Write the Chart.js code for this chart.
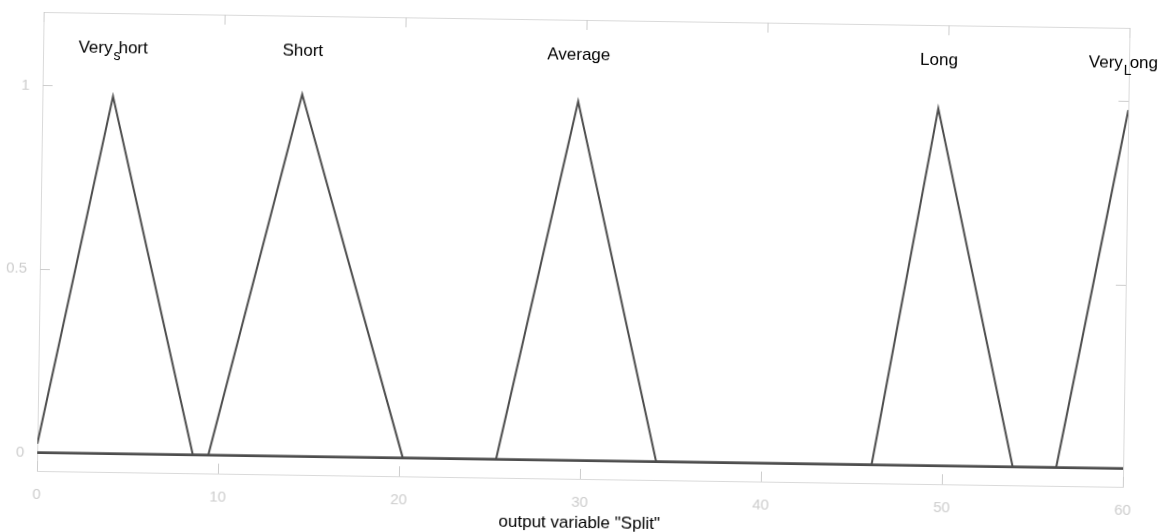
<!DOCTYPE html>
<html><head><meta charset="utf-8">
<script src="https://cdn.jsdelivr.net/npm/chart.js@4.4.1/dist/chart.umd.min.js"></script>
<style>
html,body{margin:0;padding:0;background:#fff;overflow:hidden;width:1176px;height:532px;}
#wrap{width:1176px;height:532px;transform:rotate(0.84deg);transform-origin:588px 266px;}
canvas{display:block;}
</style></head><body>
<div id="wrap"><canvas id="c" width="1176" height="532"></canvas></div>
<script>
// ---- data ----
const xTicks = [0, 10, 20, 30, 40, 50, 60];
const yTicks = [0, 0.5, 1];
const mfNames = ['Very_short', 'Short', 'Average', 'Long', 'Very_Long'];
const veryShortX = [0, 3.9, 8.6, 60];
const veryShortY = [0.024, 0.973, 0, 0];
const shortX = [0, 9.45, 14.35, 20.2, 60];
const shortY = [0, 0, 0.986, 0, 0];
const averageX = [0, 25.35, 29.6, 34.2, 60];
const averageY = [0, 0, 0.978, 0, 0];
const longX = [0, 46.1, 49.5, 53.9, 60];
const longY = [0, 0, 0.973, 0, 0];
const veryLongX = [0, 56.3, 60];
const veryLongY = [0, 0, 0.976];
const axisTitle = 'output variable "Split"';
const labelLevel = 1.105;

const seriesX = [veryShortX, shortX, averageX, longX, veryLongX];
const seriesY = [veryShortY, shortY, averageY, longY, veryLongY];

const FONT = '"Liberation Sans", Arial, sans-serif';
const LINE = '#4d4d4d';
const FAINT = '#cdcdcd';

const datasets = mfNames.map((name, i) => ({
  label: name,
  data: seriesX[i].map((x, j) => ({x: x, y: seriesY[i][j]})),
  borderColor: LINE,
  borderWidth: 2,
  pointRadius: 0,
  tension: 0,
  fill: false
}));

const boxPlugin = {
  id: 'box',
  beforeDatasetsDraw(chart) {
    const {ctx, chartArea: a, scales: {x, y}} = chart;
    ctx.save();
    ctx.strokeStyle = '#dadada';
    ctx.lineWidth = 1;
    ctx.strokeRect(Math.round(a.left) + 0.5, Math.round(a.top) + 0.5,
                   Math.round(a.right - a.left), Math.round(a.bottom - a.top));
    ctx.strokeStyle = FAINT;
    const L = 10;
    ctx.beginPath();
    xTicks.forEach(v => {
      const px = Math.round(x.getPixelForValue(v)) + 0.5;
      ctx.moveTo(px, a.bottom); ctx.lineTo(px, a.bottom - L);
      ctx.moveTo(px, a.top); ctx.lineTo(px, a.top + L);
    });
    yTicks.forEach(v => {
      const py = Math.round(y.getPixelForValue(v)) + 0.5;
      ctx.moveTo(a.left, py); ctx.lineTo(a.left + L, py);
      ctx.moveTo(a.right, py); ctx.lineTo(a.right - L, py);
    });
    ctx.stroke();
    ctx.restore();
  }
};

const labelPlugin = {
  id: 'mfLabels',
  afterDatasetsDraw(chart) {
    const {ctx, scales: {x, y}} = chart;
    ctx.save();
    ctx.fillStyle = '#000';
    ctx.textBaseline = 'middle';
    ctx.textAlign = 'left';
    const big = '17px ' + FONT, small = '14px ' + FONT;
    mfNames.forEach((name, i) => {
      const ys = seriesY[i];
      let k = 0;
      ys.forEach((v, j) => { if (v > ys[k]) k = j; });
      const cx = x.getPixelForValue(seriesX[i][k]);
      const cy = y.getPixelForValue(labelLevel);
      const u = name.indexOf('_');
      let parts;
      if (u >= 0) parts = [name.slice(0, u), name.charAt(u + 1), name.slice(u + 2)];
      else parts = [name, '', ''];
      ctx.font = big; const w1 = ctx.measureText(parts[0]).width;
      ctx.font = small; const ws = parts[1] ? ctx.measureText(parts[1]).width : 0;
      ctx.font = big; const w2 = ctx.measureText(parts[2]).width;
      const total = w1 + ws + w2;
      let left = cx - total / 2;
      const maxRight = chart.width - 20;
      if (left + total > maxRight) left = maxRight - total;
      ctx.font = big; ctx.fillText(parts[0], left, cy);
      if (parts[1]) {
        ctx.font = small; ctx.fillText(parts[1], left + w1 + 1, cy + 8);
        ctx.font = big; ctx.fillText(parts[2], left + w1 + ws - 1, cy);
      }
    });
    ctx.restore();
  }
};

new Chart(document.getElementById('c'), {
  type: 'line',
  data: {datasets},
  options: {
    responsive: false,
    animation: false,
    devicePixelRatio: 1,
    layout: {padding: {top: 20, right: 50, left: 0, bottom: 0}},
    plugins: {legend: {display: false}, tooltip: {enabled: false}},
    scales: {
      x: {
        type: 'linear', min: 0, max: 60,
        afterBuildTicks: s => { s.ticks = xTicks.map(v => ({value: v})); },
        afterFit: s => { s.height = 53; },
        grid: {display: false}, border: {display: false},
        ticks: {color: FAINT, font: {family: FONT, size: 15}, padding: 7, maxRotation: 0,
                callback: v => String(v)},
        title: {display: true, text: axisTitle, color: '#000',
                font: {family: FONT, size: 17}, padding: {top: 0, bottom: -2}}
      },
      y: {
        type: 'linear', min: -0.05, max: 1.2,
        afterBuildTicks: s => { s.ticks = yTicks.map(v => ({value: v})); },
        afterFit: s => { s.width = 40; },
        grid: {display: false}, border: {display: false},
        ticks: {color: FAINT, font: {family: FONT, size: 15}, padding: 5,
                callback: v => String(v)}
      }
    }
  },
  plugins: [boxPlugin, labelPlugin]
});
</script>
</body></html>
